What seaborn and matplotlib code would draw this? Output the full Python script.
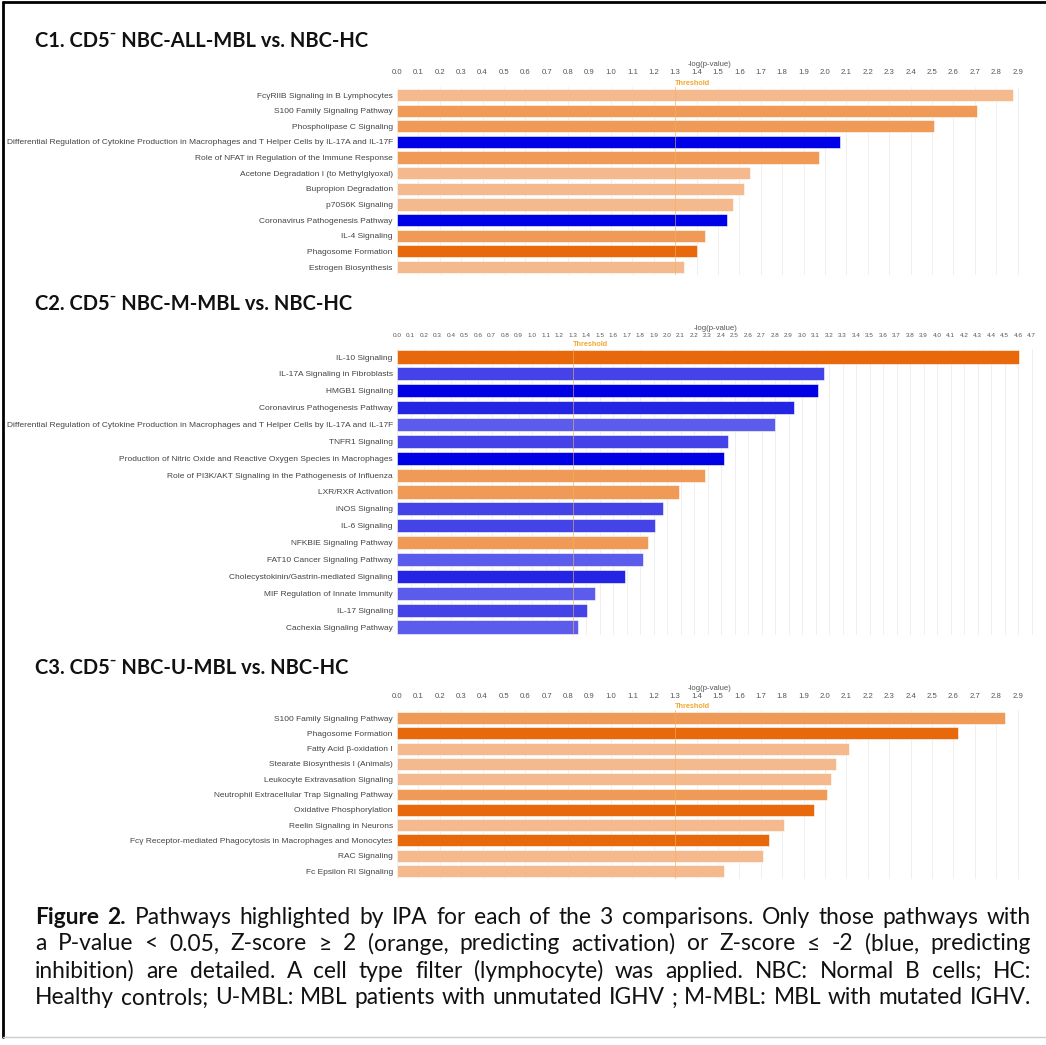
import numpy as np
import pandas as pd
import matplotlib
matplotlib.use("Agg")
import matplotlib.pyplot as plt
import matplotlib.transforms as mtransforms
import seaborn as sns

# colours used by IPA
LO = '#F4B98D'   # light orange
MO = '#EF9A56'   # medium orange
DO = '#E8690B'   # dark orange
DB = '#0000E6'   # dark blue
B2 = '#2424E4'
MB = '#4343E8'   # medium blue
LB = '#5C5CEC'   # light blue

# ---- C1 ----
c1_names = ['FcγRIIB Signaling in B Lymphocytes', 'S100 Family Signaling Pathway',
            'Phospholipase C Signaling',
            'Differential Regulation of Cytokine Production in Macrophages and T Helper Cells by IL-17A and IL-17F',
            'Role of NFAT in Regulation of the Immune Response', 'Acetone Degradation I (to Methylglyoxal)',
            'Bupropion Degradation', 'p70S6K Signaling', 'Coronavirus Pathogenesis Pathway',
            'IL-4 Signaling', 'Phagosome Formation', 'Estrogen Biosynthesis']
c1_vals = [2.88, 2.71, 2.51, 2.07, 1.97, 1.65, 1.62, 1.57, 1.54, 1.44, 1.40, 1.34]
c1_cols = [LO, MO, MO, DB, MO, LO, LO, LO, DB, MO, DO, LO]

# ---- C2 ----
c2_names = ['IL-10 Signaling', 'IL-17A Signaling in Fibroblasts', 'HMGB1 Signaling',
            'Coronavirus Pathogenesis Pathway',
            'Differential Regulation of Cytokine Production in Macrophages and T Helper Cells by IL-17A and IL-17F',
            'TNFR1 Signaling', 'Production of Nitric Oxide and Reactive Oxygen Species in Macrophages',
            'Role of PI3K/AKT Signaling in the Pathogenesis of Influenza', 'LXR/RXR Activation',
            'iNOS Signaling', 'IL-6 Signaling', 'NFKBIE Signaling Pathway', 'FAT10 Cancer Signaling Pathway',
            'Cholecystokinin/Gastrin-mediated Signaling', 'MIF Regulation of Innate Immunity',
            'IL-17 Signaling', 'Cachexia Signaling Pathway']
c2_vals = [4.61, 3.16, 3.12, 2.94, 2.80, 2.45, 2.42, 2.28, 2.09, 1.97, 1.91, 1.86, 1.82, 1.69, 1.47, 1.41, 1.34]
c2_cols = [DO, MB, DB, B2, LB, MB, DB, MO, MO, MB, MB, MO, LB, B2, LB, MB, LB]

# ---- C3 ----
c3_names = ['S100 Family Signaling Pathway', 'Phagosome Formation', 'Fatty Acid β-oxidation I',
            'Stearate Biosynthesis I (Animals)', 'Leukocyte Extravasation Signaling',
            'Neutrophil Extracellular Trap Signaling Pathway', 'Oxidative Phosphorylation',
            'Reelin Signaling in Neurons', 'Fcγ Receptor-mediated Phagocytosis in Macrophages and Monocytes',
            'RAC Signaling', 'Fc Epsilon RI Signaling']
c3_vals = [2.84, 2.62, 2.11, 2.05, 2.03, 2.01, 1.95, 1.81, 1.74, 1.71, 1.53]
c3_cols = [MO, DO, LO, LO, LO, MO, DO, LO, DO, LO, LO]

titles = ['C1. CD5⁻ NBC-ALL-MBL vs. NBC-HC', 'C2. CD5⁻ NBC-M-MBL vs. NBC-HC', 'C3. CD5⁻ NBC-U-MBL vs. NBC-HC']

caption = [
    'Figure 2. Pathways highlighted by IPA for each of the 3 comparisons. Only those pathways with',
    'a P-value < 0.05, Z-score ≥ 2 (orange, predicting activation) or Z-score ≤ -2 (blue, predicting',
    'inhibition) are detailed. A cell type filter (lymphocyte) was applied. NBC: Normal B cells; HC:',
    'Healthy controls; U-MBL: MBL patients with unmutated IGHV ; M-MBL: MBL with mutated IGHV.',
]

sns.set_theme(style='white')
plt.rcParams['font.family'] = ['Liberation Sans', 'DejaVu Sans']

W, H = 1046, 1045
fig = plt.figure(figsize=(W / 100, H / 100), dpi=100)


def px_axes(left, top, width, height):
    return fig.add_axes([left / W, 1 - (top + height) / H, width / W, height / H])


def panel(names, vals, cols, xmax, ppu, top_px, first_px, last_px, title, title_y, fs_tick):
    n = len(names)
    sp = (last_px - first_px) / (n - 1)
    top = first_px - sp / 2
    height = sp * n
    ax = px_axes(397, top, xmax * ppu, height)
    df = pd.DataFrame({'name': names, 'val': vals})
    sns.barplot(data=df, x='val', y='name', hue='name', palette=cols, legend=False,
                orient='h', width=0.78, ax=ax, edgecolor='#ffffff', linewidth=0.4, saturation=1)
    ax.set_xlim(0, xmax)
    ticks = np.round(np.arange(0, xmax + 1e-9, 0.1), 1)
    ax.set_xticks(ticks)
    ax.set_xticklabels(['%.1f' % t for t in ticks])
    ax.xaxis.tick_top()
    ax.xaxis.set_label_position('top')
    ax.tick_params(axis='x', length=0, pad=(top - top_px) * 0.72, labelsize=fs_tick, colors='#555555')
    ax.tick_params(axis='y', length=0, pad=3, labelsize=6.0, colors='#444444')
    ax.set_xlabel('-log(p-value)', fontsize=5.6, color='#555555', labelpad=2.5)
    ax.set_ylabel('')
    ax.grid(axis='x', color='#ececec', linewidth=0.6)
    ax.set_axisbelow(True)
    for s in ax.spines.values():
        s.set_visible(False)
    ax.axvline(1.3, color='#F3B25A', linewidth=0.7, zorder=5, alpha=0.6)
    tr = mtransforms.blended_transform_factory(ax.transData, ax.transAxes)
    ax.text(1.3, 1 + 4 / height, 'Threshold', transform=tr, fontsize=5.2, color='#F0A830',
            ha='left', va='center', fontweight='bold')
    fig.text(35 / W, 1 - title_y / H, title, fontsize=14.5, fontweight='bold',
             family=['Lato', 'DejaVu Sans'], color='#111111', va='center', ha='left')
    return ax


panel(c1_names, c1_vals, c1_cols, 2.92, 214, 76, 95, 267, titles[0], 41, 5.6)
panel(c2_names, c2_vals, c2_cols, 4.72, 135, 338, 357, 627, titles[1], 304, 4.6)
panel(c3_names, c3_vals, c3_cols, 2.92, 214, 700, 718, 871, titles[2], 668, 5.6)

# caption: size it to the box, then justify each line
renderer = fig.canvas.get_renderer()
x0, x1 = 35, 1031
line_y = [917, 944, 971, 998]
cap_font = ['Lato', 'DejaVu Sans']
probe = [fig.text(0, 0, ln, fontsize=10, family=cap_font) for ln in caption]
natural = max(p.get_window_extent(renderer).width for p in probe)
for p in probe:
    p.remove()
cap_size = 10 * (x1 - x0) / natural * 0.985

for i, line in enumerate(caption):
    words = line.split(' ')
    arts = []
    for j, w in enumerate(words):
        bold = (i == 0 and j < 2)
        t = fig.text(0, 1 - line_y[i] / H, w, fontsize=cap_size, family=cap_font,
                     fontweight='bold' if bold else 'normal', va='center', ha='left', color='#111111')
        arts.append(t)
    widths = [a.get_window_extent(renderer).width for a in arts]
    gap = (x1 - x0 - sum(widths)) / (len(arts) - 1)
    x = x0
    for a, w in zip(arts, widths):
        a.set_x(x / W)
        x += w + gap

# frame
fig.add_artist(plt.Line2D([3 / W, 3 / W], [0.008, 1 - 2 / H], color='black', linewidth=2))
fig.add_artist(plt.Line2D([3 / W, 1], [1 - 2 / H, 1 - 2 / H], color='black', linewidth=2))
fig.add_artist(plt.Line2D([3 / W, 1], [1 - 1037 / H, 1 - 1037 / H], color='#cccccc', linewidth=1))

fig.savefig('out.png', dpi=100, facecolor='white')
